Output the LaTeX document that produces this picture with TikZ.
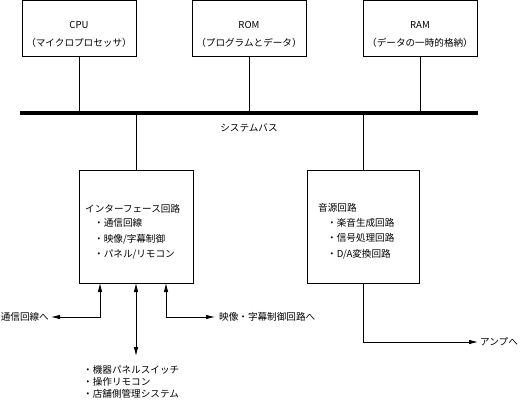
\documentclass[tikz,border=0pt]{standalone}
\usepackage{fontspec}
\setmainfont{Noto Sans CJK JP}
\usetikzlibrary{arrows.meta}
\begin{document}
\begin{tikzpicture}[x=1pt,y=-1pt,
  font=\fontsize{9.6}{12}\selectfont,
  box/.style={draw, line width=0.8pt, inner sep=0pt, outer sep=0pt},
  txt/.style={inner sep=0pt, anchor=west},
  ctxt/.style={inner sep=0pt, anchor=center},
  wire/.style={line width=0.8pt},
  tip/.style={-{Latex[length=9pt,width=4.5pt]}},
  both/.style={{Latex[length=9pt,width=4.5pt]}-{Latex[length=9pt,width=4.5pt]}}]
\useasboundingbox (0,0) rectangle (521,403);
% top boxes
\node[box, minimum width=114pt, minimum height=56pt] (cpu) at (79,28.5) {};
\node[box, minimum width=114pt, minimum height=56pt] (rom) at (249,28.5) {};
\node[box, minimum width=114pt, minimum height=56pt] (ram) at (420,28.5) {};
\node[ctxt] (cpu1) at (79,25) {CPU};
\node[ctxt] (cpu2) at (79,43) {（マイクロプロセッサ）};
\node[ctxt] (rom1) at (249,25) {ROM};
\node[ctxt] (rom2) at (249,43) {（プログラムとデータ）};
\node[ctxt] (ram1) at (420,25) {RAM};
\node[ctxt] (ram2) at (420,43) {（データの一時的格納）};
% bus
\coordinate (busL) at (20,113);
\coordinate (busR) at (478,113);
\draw[line width=4pt] (busL) -- (busR);
\node[ctxt] (buslabel) at (249,128) {システムバス};
\draw[wire] (cpu.south) -- (cpu.south |- busL);
\draw[wire] (rom.south) -- (rom.south |- busL);
\draw[wire] (ram.south) -- (ram.south |- busL);
% lower boxes
\node[box, minimum width=114pt, minimum height=113pt] (ifc) at (136,226.5) {};
\node[box, minimum width=112pt, minimum height=113pt] (snd) at (363,226.5) {};
\draw[wire] (ifc.north |- busL) -- (ifc.north);
\draw[wire] (snd.north |- busL) -- (snd.north);
\node[txt] (ift) at (85,209) {インターフェース回路};
\node[txt] (if1) at (94,223) {・通信回線};
\node[txt] (if2) at (94,239) {・映像/字幕制御};
\node[txt] (if3) at (94,254) {・パネル/リモコン};
\node[txt] (sdt) at (318,208) {音源回路};
\node[txt] (sd1) at (327,223) {・楽音生成回路};
\node[txt] (sd2) at (327,238) {・信号処理回路};
\node[txt] (sd3) at (327,254) {・D/A変換回路};
% interface connections
\coordinate (ifa) at (100,283);
\coordinate (ifb) at (136,283);
\coordinate (ifc2) at (166,283);
\coordinate (lcorner) at (100,317);
\coordinate (lend) at (51,317);
\coordinate (rcorner) at (166,317);
\coordinate (rend) at (215,317);
\coordinate (mend) at (136,356);
\draw[wire, both] (ifa) -- (lcorner) -- (lend);
\draw[wire, both] (ifc2) -- (rcorner) -- (rend);
\draw[wire, both] (ifb) -- (mend);
\node[inner sep=0pt, anchor=east] (ltext) at (49,317) {通信回線へ};
\node[txt] (rtext) at (219,317) {映像・字幕制御回路へ};
\node[txt] (b1) at (83,370) {・機器パネルスイッチ};
\node[txt] (b2) at (83,382) {・操作リモコン};
\node[txt] (b3) at (83,394) {・店舗側管理システム};
% sound output
\coordinate (scorner) at (363,342);
\coordinate (send) at (478,342);
\draw[wire, tip] (snd.south) -- (scorner) -- (send);
\node[txt] (amp) at (480,342) {アンプへ};
\end{tikzpicture}
\end{document}
